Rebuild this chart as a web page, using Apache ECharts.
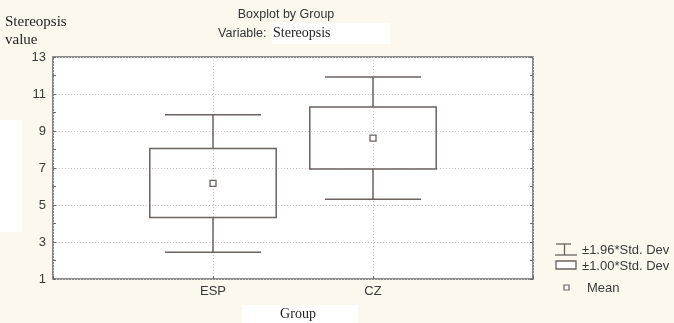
<!DOCTYPE html>
<html>
<head>
<meta charset="utf-8">
<script src="https://cdn.jsdelivr.net/npm/echarts@6/dist/echarts.min.js"></script>
<style>
  html, body { margin: 0; padding: 0; background: #fcf8ee; }
  #chart { width: 674px; height: 323px; }
</style>
</head>
<body>
<div id="chart"></div>
<script>
// Groups on the x axis
const categories = ['ESP', 'CZ'];
// Mean of Stereopsis per group
const meanValues = [6.17, 8.62];
// Mean ± 1.00*SD (box)
const sd100Low = [4.33, 6.95];
const sd100High = [8.06, 10.30];
// Mean ± 1.96*SD (whiskers)
const sd196Low = [2.44, 5.31];
const sd196High = [9.88, 11.92];

const lineColor = '#6b6260';
const textColor = '#3a3a3a';
const sans = 'Liberation Sans';

const boxData = categories.map((c, i) => [
  i + 1, sd196Low[i], sd100Low[i], meanValues[i], sd100High[i], sd196High[i]
]);

function renderBox(params, api) {
  const x = api.value(0);
  const lo196 = api.coord([x, api.value(1)]);
  const lo100 = api.coord([x, api.value(2)]);
  const mean = api.coord([x, api.value(3)]);
  const hi100 = api.coord([x, api.value(4)]);
  const hi196 = api.coord([x, api.value(5)]);
  const boxHalf = api.size([0.395, 0])[0];
  const capHalf = api.size([0.30, 0])[0];
  const cx = mean[0];
  const style = { stroke: lineColor, lineWidth: 1.5, fill: null };
  const m = 3;
  return {
    type: 'group',
    children: [
      { type: 'line', shape: { x1: cx, y1: hi196[1], x2: cx, y2: hi100[1] }, style },
      { type: 'line', shape: { x1: cx, y1: lo100[1], x2: cx, y2: lo196[1] }, style },
      { type: 'line', shape: { x1: cx - capHalf, y1: hi196[1], x2: cx + capHalf, y2: hi196[1] }, style },
      { type: 'line', shape: { x1: cx - capHalf, y1: lo196[1], x2: cx + capHalf, y2: lo196[1] }, style },
      { type: 'rect', shape: { x: cx - boxHalf, y: hi100[1], width: boxHalf * 2, height: lo100[1] - hi100[1] },
        style: { stroke: lineColor, lineWidth: 1.5, fill: 'rgba(255,255,255,0)' } },
      { type: 'rect', shape: { x: cx - m, y: mean[1] - m, width: 2 * m, height: 2 * m },
        style: { stroke: lineColor, lineWidth: 1.3, fill: '#fff' } }
    ]
  };
}

const chart = echarts.init(document.getElementById('chart'), null, { renderer: 'canvas' });

const gridLine = { show: true, lineStyle: { color: '#c9c9c9', type: [1, 2], width: 1 } };
const tickStyle = { color: '#6a6a6a' };

chart.setOption({
  backgroundColor: '#fcf8ee',
  animation: false,
  grid: {
    left: 53, right: 141, top: 57, bottom: 44,
    show: true, backgroundColor: '#ffffff', borderColor: '#6a6a6a', borderWidth: 1.6
  },
  xAxis: {
    type: 'value', min: 0, max: 3, interval: 1,
    axisLine: { show: false },
    axisTick: { show: true, inside: true, length: 3, lineStyle: tickStyle },
    splitLine: gridLine,
    axisLabel: {
      color: textColor, fontFamily: sans, fontSize: 13, margin: 6,
      formatter: v => categories[v - 1] || ''
    }
  },
  yAxis: [{
    type: 'value', min: 1, max: 13, interval: 2,
    axisLine: { show: false },
    axisTick: { show: true, inside: true, length: 3, lineStyle: tickStyle },
    minorTick: { show: true, splitNumber: 2, length: 3, lineStyle: tickStyle },
    splitLine: gridLine,
    axisLabel: { color: textColor, fontFamily: sans, fontSize: 13, margin: 7 }
  }, {
    type: 'value', min: 1, max: 13, interval: 2, position: 'right',
    axisLine: { show: false },
    axisTick: { show: true, inside: true, length: 3, lineStyle: tickStyle },
    minorTick: { show: true, splitNumber: 2, length: 3, lineStyle: tickStyle },
    splitLine: { show: false },
    axisLabel: { show: false }
  }],
  series: [{
    type: 'custom',
    renderItem: renderBox,
    data: boxData,
    encode: { x: 0, y: [1, 2, 3, 4, 5] },
    z: 5
  }],
  graphic: [
    // pale panels behind some labels
    { type: 'rect', left: 272, top: 23, shape: { width: 118, height: 21 }, style: { fill: '#ffffff' }, silent: true, z: -1 },
    { type: 'rect', left: 0, top: 120, shape: { width: 22, height: 112 }, style: { fill: '#ffffff' }, silent: true, z: -1 },
    { type: 'rect', left: 242, top: 305, shape: { width: 116, height: 18 }, style: { fill: '#ffffff' }, silent: true, z: -1 },
    // titles
    { type: 'text', x: 286, y: 15, style: { text: 'Boxplot by Group', font: '12.5px "Liberation Sans"', fill: '#333', textAlign: 'center', textVerticalAlign: 'middle' } },
    { type: 'text', x: 270, y: 34, style: { text: 'Variable: ', font: '12.5px "Liberation Sans"', fill: '#333', textAlign: 'right', textVerticalAlign: 'middle' } },
    { type: 'text', x: 273, y: 33, style: { text: 'Stereopsis', font: '14px "Liberation Serif"', fill: '#1e1e1e', textAlign: 'left', textVerticalAlign: 'middle' } },
    { type: 'text', x: 5, y: 22, style: { text: 'Stereopsis', font: '15px "Liberation Serif"', fill: '#1e1e1e', textAlign: 'left', textVerticalAlign: 'middle' } },
    { type: 'text', x: 5, y: 40, style: { text: 'value', font: '15px "Liberation Serif"', fill: '#1e1e1e', textAlign: 'left', textVerticalAlign: 'middle' } },
    { type: 'text', x: 298, y: 314, style: { text: 'Group', font: '14px "Liberation Serif"', fill: '#1e1e1e', textAlign: 'center', textVerticalAlign: 'middle' } },
    // legend: whisker
    { type: 'line', shape: { x1: 556, y1: 244, x2: 571, y2: 244 }, style: { stroke: lineColor, lineWidth: 1.3 } },
    { type: 'line', shape: { x1: 564.5, y1: 244, x2: 564.5, y2: 255 }, style: { stroke: lineColor, lineWidth: 1.3 } },
    { type: 'line', shape: { x1: 555, y1: 255, x2: 577, y2: 255 }, style: { stroke: lineColor, lineWidth: 1.3 } },
    { type: 'text', x: 582, y: 250, style: { text: '±1.96*Std. Dev', font: '13px "Liberation Sans"', fill: textColor, textVerticalAlign: 'middle' } },
    // legend: box
    { type: 'rect', shape: { x: 556, y: 261, width: 20, height: 8 }, style: { stroke: lineColor, lineWidth: 1.3, fill: '#fff' } },
    { type: 'text', x: 582, y: 266, style: { text: '±1.00*Std. Dev', font: '13px "Liberation Sans"', fill: textColor, textVerticalAlign: 'middle' } },
    // legend: mean
    { type: 'rect', shape: { x: 564, y: 285, width: 5, height: 5 }, style: { stroke: lineColor, lineWidth: 1.2, fill: '#fff' } },
    { type: 'text', x: 587, y: 288, style: { text: 'Mean', font: '13px "Liberation Sans"', fill: textColor, textVerticalAlign: 'middle' } }
  ]
});
</script>
</body>
</html>
